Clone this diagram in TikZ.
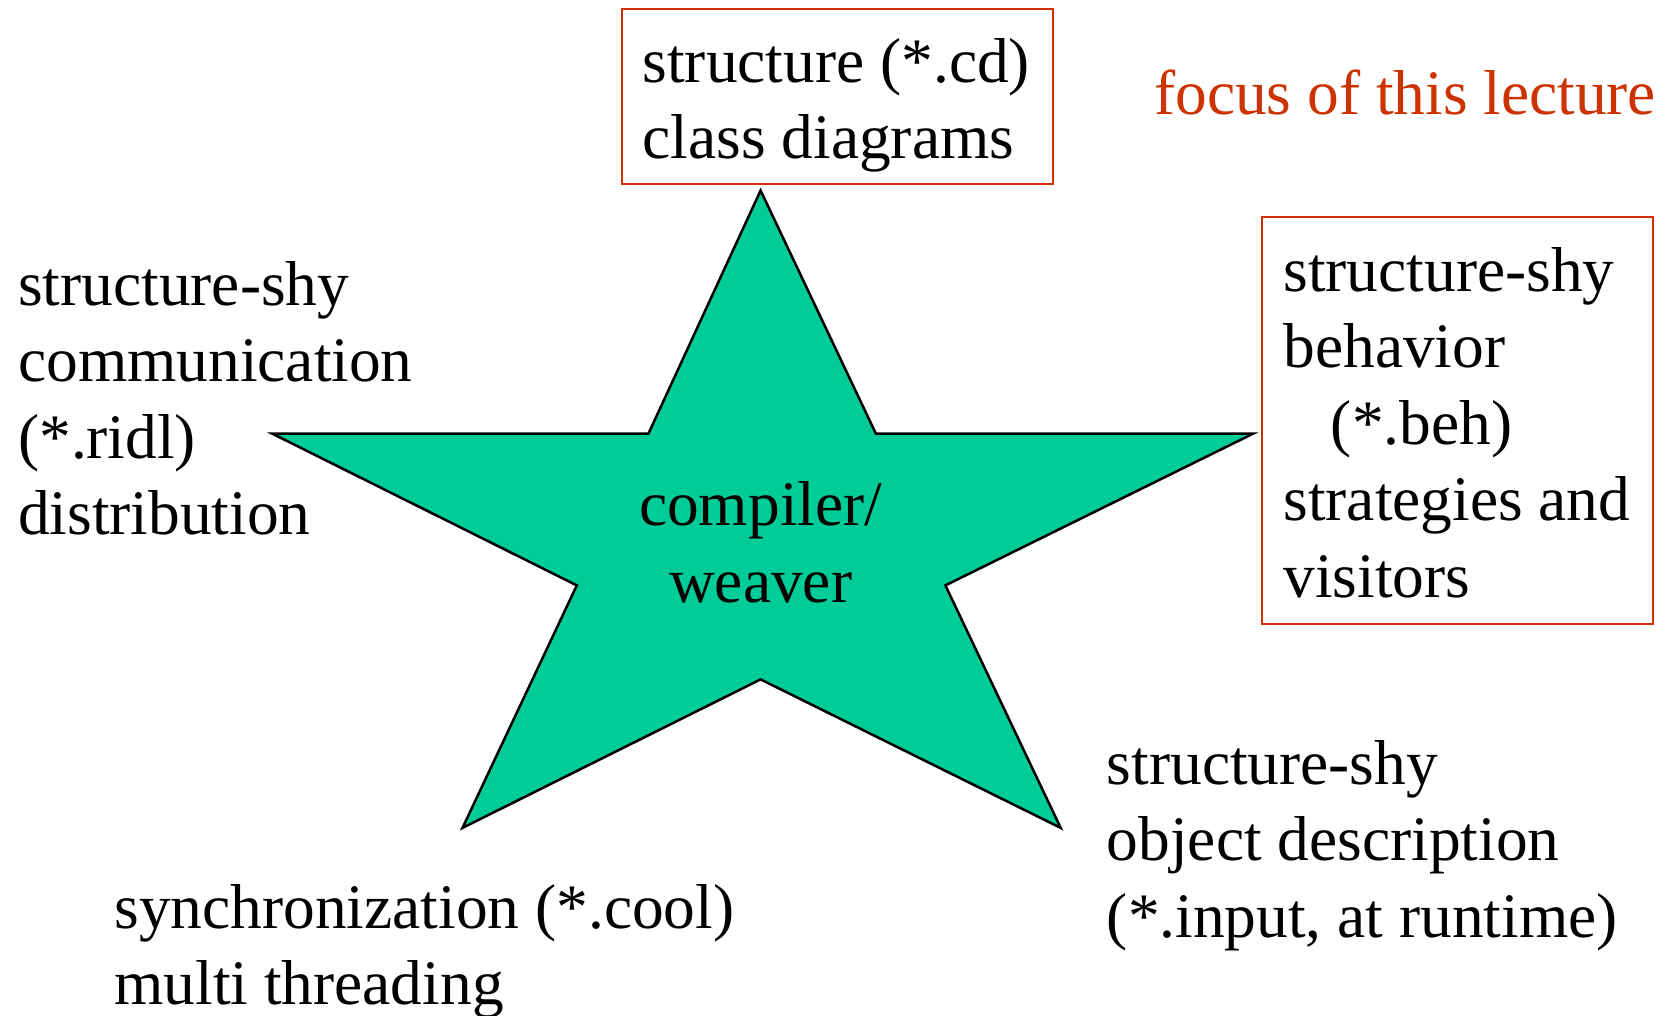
\documentclass[tikz,border=0pt]{standalone}
\usepackage{fontspec}
\setmainfont{Liberation Serif}
\definecolor{focusred}{RGB}{204,51,0}
\definecolor{startea}{RGB}{0,204,153}
\begin{document}
\begin{tikzpicture}[x=1pt,y=-1pt,
  txt/.style={anchor=base west,inner sep=0pt,font=\fontsize{63.4pt}{76.4pt}\selectfont},
  ctxt/.style={anchor=base,inner sep=0pt,font=\fontsize{63.4pt}{76.4pt}\selectfont},
  redbox/.style={draw=focusred,line width=2pt,inner sep=0pt,anchor=north west},
  starshape/.style={draw=black,line width=2.5pt,fill=startea,line join=miter}]
\useasboundingbox (0,0) rectangle (1675,1016);
\fill[white] (0,0) rectangle (1675,1016);

% star
\coordinate (s1) at (760.6,190.5);
\coordinate (s2) at (875.9,433.7);
\coordinate (s3) at (1253.0,433.7);
\coordinate (s4) at (945.4,585.4);
\coordinate (s5) at (1060.7,827.9);
\coordinate (s6) at (760.6,679.4);
\coordinate (s7) at (462.5,827.9);
\coordinate (s8) at (576.8,585.4);
\coordinate (s9) at (272.4,433.7);
\coordinate (s10) at (648.4,433.7);
\draw[starshape] (s1) -- (s2) -- (s3) -- (s4) -- (s5) -- (s6) -- (s7) -- (s8) -- (s9) -- (s10) -- cycle;
\node[ctxt] (c1) at (760.6,525.5) {compiler/};
\node[ctxt] (c2) at (760.6,602.5) {weaver};

% top box
\node[redbox,minimum width=431pt,minimum height=175pt] (cdbox) at (620.6,8.5) {};
\node[txt] (t1) at (642.5,82.5) {structure (*.cd)};
\node[txt] (t2) at (642.5,158.7) {class diagrams};

% focus
\node[txt,text=focusred] (focus) at (1154,115) {focus of this lecture};

% right box
\node[redbox,minimum width=391pt,minimum height=406pt] (behbox) at (1260.5,216.5) {};
\node[txt] (r1) at (1283.3,291.3) {structure-shy};
\node[txt] (r2) at (1283.3,367.8) {behavior};
\node[txt] (r3) at (1330.7,444.3) {(*.beh)};
\node[txt] (r4) at (1283.3,520.8) {strategies and};
\node[txt] (r5) at (1283.3,597.2) {visitors};

% left text
\node[txt] (l1) at (18,305.3) {structure-shy};
\node[txt] (l2) at (18,381.7) {communication};
\node[txt] (l3) at (18,458.1) {(*.ridl)};
\node[txt] (l4) at (18,534.5) {distribution};

% bottom right
\node[txt] (b1) at (1106.7,784.5) {structure-shy};
\node[txt] (b2) at (1106.7,860.9) {object description};
\node[txt] (b3) at (1106.7,937.3) {(*.input, at runtime)};

% bottom left
\node[txt] (g1) at (114.3,928.5) {synchronization (*.cool)};
\node[txt] (g2) at (114.3,1004.9) {multi threading};
\end{tikzpicture}
\end{document}
